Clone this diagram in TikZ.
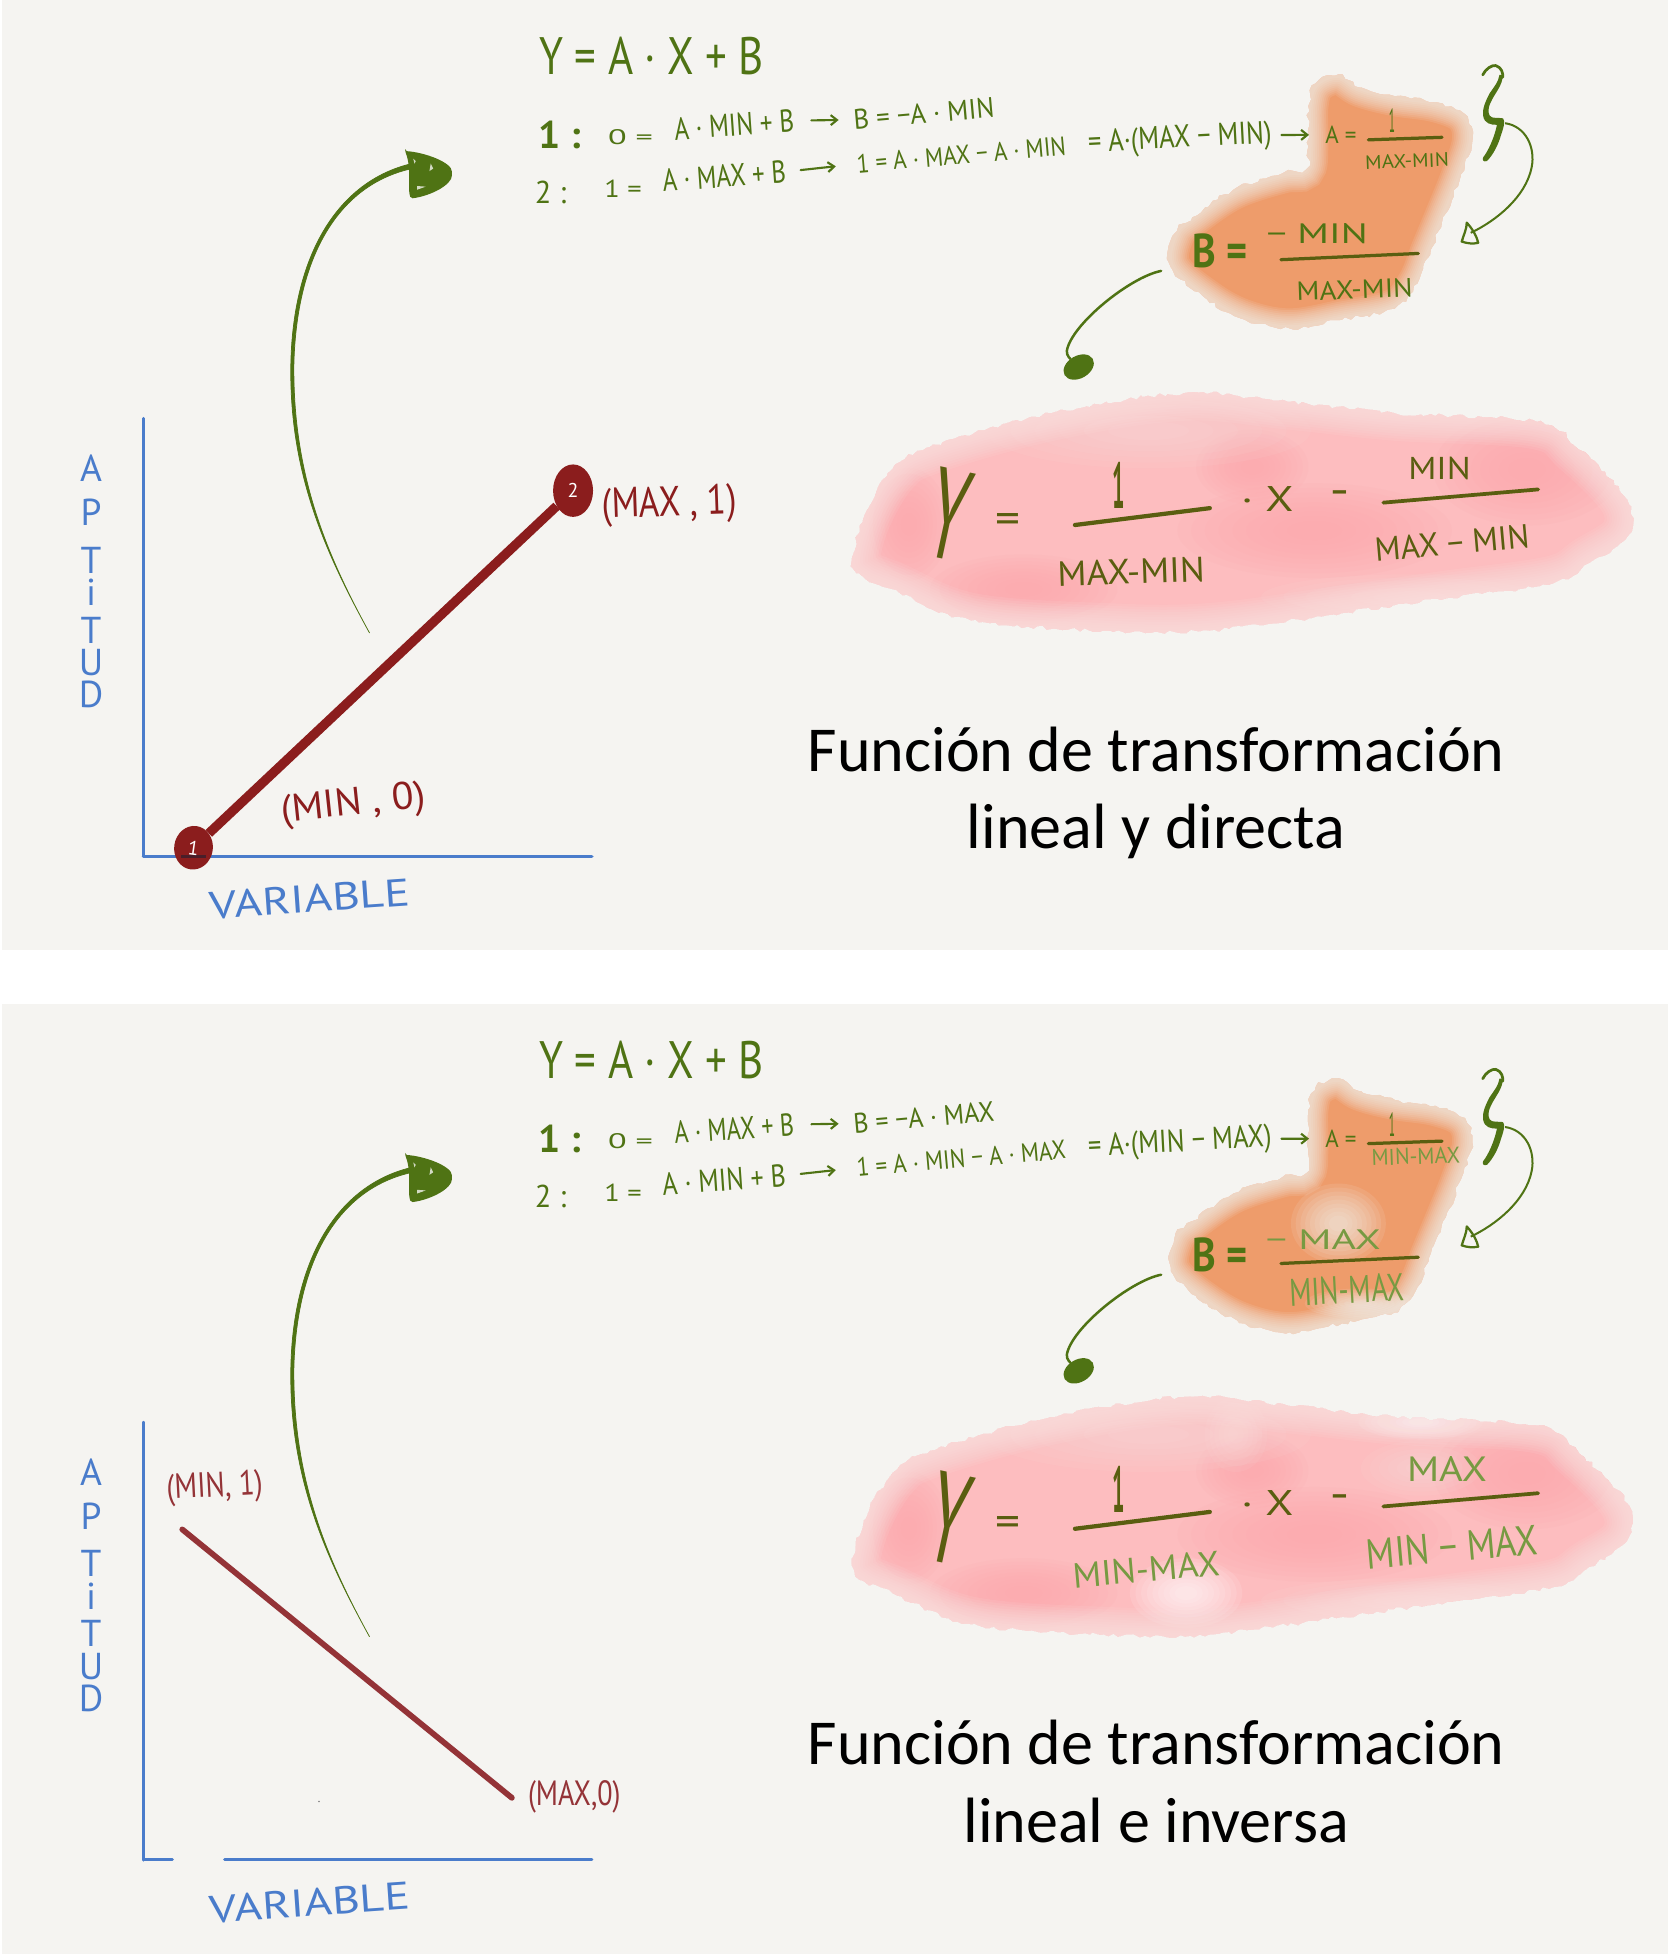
\documentclass[tikz,border=0pt]{standalone}
\usepackage{fontspec}
\usepackage{graphicx}
\usetikzlibrary{arrows.meta,decorations.pathmorphing,shapes.geometric}
\setmainfont{Carlito}
\newfontfamily\hand{PT Sans}
\definecolor{panelbg}{HTML}{F5F4F1}
\definecolor{hgreen}{HTML}{4F7314}
\definecolor{hdark}{HTML}{5A5E10}
\definecolor{lgreen}{HTML}{779A42}
\definecolor{hblue}{HTML}{4A7CCB}
\definecolor{hred}{HTML}{8B1D1D}
\definecolor{hredb}{HTML}{943337}
\definecolor{orangeblob}{HTML}{EE9C6B}
\definecolor{pinkblob}{HTML}{FDBDBF}
\definecolor{pinkdeep}{HTML}{FCA6AB}
\definecolor{pinkpale}{HTML}{F9E6E4}
\tikzset{
  x=1pt,y=-1pt,
  hwtext/.style={inner sep=0pt,outer sep=0pt,font=\hand},
  hwarrow/.style={draw=hgreen,line width=1.7pt,line cap=round,-{Straight Barb[length=5pt,width=8pt]}},
  fracbar/.style={draw=hdark,line cap=round},
  tapered/.style={draw=hgreen,fill=hgreen,line width=.6pt,line join=round},
  axisline/.style={draw=hblue,line cap=round},
  dotnode/.style={ellipse,fill=hred,text=white,inner sep=0pt,font=\hand\fontsize{16}{16}\selectfont},
  headblob/.style={ellipse,fill=hgreen,inner sep=0pt},
  jag/.style={decorate,decoration={random steps,segment length=4pt,amplitude=1.6pt}},
}
% \hw{name}{x,y}{rotation}{width}{height}{colour}{text}
\newcommand\hw[7]{\node[hwtext,text=#6,rotate=#3] (#1) at (#2) {\resizebox{#4pt}{#5pt}{#7}};}
\newcommand\softspot[5]{% x y rx ry colour
  \foreach \s in {1,.9,.8,.7,.6,.5,.4,.3,.2}{\fill[#5,opacity=.11] (#1,#2) ellipse [x radius=\s*#3pt,y radius=\s*#4pt];}}
\newcommand\softpale[5]{% x y rx ry colour, lighter
  \foreach \s in {1,.85,.7,.55,.4,.25}{\fill[#5,opacity=.08] (#1,#2) ellipse [x radius=\s*#3pt,y radius=\s*#4pt];}}
\newcommand\orangepath{plot[smooth cycle,tension=.6] coordinates {(1072,60)(1090,70)(1117,77)(1150,82)(1173,92)(1179,112)(1170,141)(1158,171)(1146,200)(1135,227)(1117,247)(1075,256)(1033,263)(997,256)(967,240)(938,214)(941,187)(955,174)(988,152)(1027,139)(1045,136)(1048,117)(1048,85)(1054,67)}}
\newcommand\pinkpath{plot[smooth cycle,tension=.6] coordinates {(683,449)(692,414)(715,376)(745,358)(842,331)(948,315)(1032,322)(1117,331)(1231,338)(1265,360)(1303,400)(1303,430)(1273,451)(1244,467)(1159,479)(1075,491)(969,505)(884,505)(778,497)(715,472)(692,462)}}
\newcommand\panelcommon[1]{%
  \begin{scope}
    \pgfmathsetseed{#1}
    \path[clip,jag] \orangepath;
    \fill[orangeblob] (900,40) rectangle (1200,280);
    \foreach \w in {32,29,26,23,20,17,14,11,8,5}{\draw[panelbg,opacity=.11,line width=\w pt] \orangepath;}
    \orangeextra
  \end{scope}
  \begin{scope}
    \pgfmathsetseed{#1}
    \path[clip,jag] \pinkpath;
    \fill[pinkblob] (670,300) rectangle (1320,520);
    \softspot{1223}{376}{75}{45}{pinkdeep}
    \softspot{1003}{374}{45}{30}{pinkdeep}
    \softspot{1053}{425}{110}{38}{pinkdeep}
    \softspot{820}{472}{75}{28}{pinkdeep}
    \softspot{728}{420}{32}{45}{pinkdeep}
    \softpale{920}{345}{130}{30}{pinkpale}
    \softpale{1130}{478}{120}{18}{pinkpale}
    \pinkextra
    \foreach \w in {44,40,36,32,28,24,20,16,12,8,4}{\draw[pinkpale,opacity=.1,line width=\w pt] \pinkpath;}
  \end{scope}
  % axes
  \draw[axisline,line width=2pt] (115,335) -- (115,686);
  \axesextra
  \node[hwtext,text=hblue,align=center,font=\hand\fontsize{30}{30}\selectfont] (aptitud) at (73,466) {A\\[5pt]P\\[8pt]T\\[-4pt]i\\T\\[-4pt]U\\[-4pt]D};
  \hw{variable}{248,720}{4}{161}{22}{hblue}{VARIABLE}
  % equations
  \hw{eqmain}{522,45}{0}{180}{30}{hgreen}{Y = A · X + B}
  \hw{oneA}{448,108}{0}{34}{22}{hgreen}{\bfseries 1 :}
  \hw{oneB}{505,110}{0}{36}{12}{hgreen}{0 =}
  \hw{oneC}{588,100}{4}{96}{18}{hgreen}{\LineOneA}
  \hw{oneD}{740,91}{5}{113}{16}{hgreen}{\LineOneB}
  \draw[hwarrow,shorten <=14pt,shorten >=12pt] (oneC.east) -- (oneD.west);
  \hw{twoA}{441,154}{0}{25}{18}{hgreen}{2 :}
  \hw{twoB}{499,151}{0}{30}{14}{hgreen}{1 =}
  \hw{twoC}{580,141}{4}{99}{18}{hgreen}{\LineTwoA}
  \hw{twoD}{770,124}{5}{168}{15}{hgreen}{\LineTwoB}
  \draw[hwarrow,shorten <=12pt,shorten >=17pt] (twoC.east) -- (twoD.west);
  \hw{twoE}{945,112}{3}{147}{18}{hgreen}{\LineTwoC}
  \hw{aeq}{1074,108}{0}{25}{14}{hgreen}{A =}
  \draw[hwarrow,shorten <=8pt,shorten >=13pt] (twoE.east) -- (aeq.west);
  \hw{aone}{1115,97}{0}{5}{19}{hgreen}{1}
  \draw[fracbar,line width=2.6pt] (1096,112) -- (1155,110);
  \hw{beq}{977,201}{0}{44}{27}{hgreen}{\bfseries B =}
  \draw[fracbar,line width=2.6pt] (1026,208) -- (1136,203);
  % big formula
  \hw{bigY}{760,412}{-12}{30}{72}{hdark}{Y}
  \hw{bigeq}{807,419}{0}{20}{16}{hdark}{=}
  \hw{bigone}{896,389}{0}{10}{37}{hdark}{\bfseries 1}
  \draw[fracbar,line width=3.4pt] (861,420.5) -- (969,407);
  \hw{bigx}{1015,400}{0}{42}{20}{hdark}{· X}
  \node[hwtext,text=hdark,font=\hand\bfseries\fontsize{24}{24}\selectfont] (bigminus) at (1073,398) {−};
  \draw[fracbar,line width=3pt] (1108,402.6) -- (1232,392);
  % big green arrow
  \coordinate (bigtail) at (296,507);
  \coordinate (bigmid) at (233,290);
  \coordinate (bigend) at (330,131);
  \draw[tapered] (bigtail) .. controls (262,445) and (231,380) .. (bigmid) .. controls (235,205) and (270,145) .. (bigend) -- (330,135) .. controls (271,148) and (238,205) .. (235.4,290) .. controls (234,380) and (262,445) .. (bigtail);
  \fill[hgreen,rounded corners=1.5pt] (324.4,121) .. controls (340,122) and (362,130) .. (362,139) .. controls (362,148) and (345,157) .. (329,159) .. controls (326,150) and (330,135) .. (324.4,121) -- cycle;
  \fill[panelbg,opacity=.8] (331,127) -- (333,129) -- (332,131) -- cycle (334,149) -- (341,149.5) -- (334,152) -- cycle (345,131) -- (347,135) -- (344,137) -- cycle;
  % brace and its arrow
  \draw[hgreen,line width=2.2pt,line cap=round,line join=round] (1187.6,60) .. controls (1190,55) and (1195,52) .. (1198,52.5) .. controls (1203,54) and (1204,59) .. (1203.6,62);
  \fill[hgreen,line join=round] (1203.6,60) .. controls (1204,68) and (1197,75) .. (1194,82) .. controls (1191,88) and (1192,93) .. (1195,94) .. controls (1199,95) and (1203,94) .. (1204,95) .. controls (1206,97) and (1204,103) .. (1202,109) .. controls (1200,116) and (1196,124) .. (1191,129) .. controls (1188,130) and (1187,128) .. (1188,126) .. controls (1192,121) and (1197,110) .. (1199,100) .. controls (1194,100) and (1189,99) .. (1188,93) .. controls (1187,87) and (1190,81) .. (1193,75) .. controls (1197,69) and (1200,66) .. (1201,60) -- cycle;
  \coordinate (bracetip) at (1205.5,98.7);
  \coordinate (hollowtip) at (1178,186.5);
  \draw[hgreen,line width=1.6pt] (bracetip) .. controls (1222,101) and (1230,118) .. (1226.8,134) .. controls (1222,158) and (1198,177) .. (hollowtip);
  \draw[hgreen,line width=1.8pt,line join=round,line cap=round] (1174.8,178.3) .. controls (1175,183) and (1172,189) .. (1170.8,193.5) .. controls (1175,195) and (1180,195.5) .. (1184,194.5) .. controls (1183,190) and (1180,184) .. (1174.8,178.3);
  % arrow from B to the formula
  \coordinate (smalltail) at (930,217);
  \node[headblob,minimum width=26pt,minimum height=18pt,rotate=30] (smallhead) at (864,294) {};
  \draw[hgreen,line width=2pt,line cap=round] (smalltail) .. controls (905,222) and (858,260) .. (854.5,281) .. controls (854,285) and (858,288) .. (smallhead);
}
\begin{document}
\begin{tikzpicture}
\useasboundingbox (0,0) rectangle (1336,1567.5);
\fill[white] (0,0) rectangle (1336,1567.5);
\fill[panelbg] (2,0) rectangle (1336,761);
\fill[panelbg] (2,804) rectangle (1336,1565);
% ---------- top panel
\begin{scope}[name prefix=top-]
  \def\LineOneA{A · MIN + B}\def\LineOneB{B = −A · MIN}
  \def\LineTwoA{A · MAX + B}\def\LineTwoB{1 = A · MAX − A · MIN}\def\LineTwoC{= A·(MAX − MIN)}
  \def\orangeextra{}\def\pinkextra{}
  \def\axesextra{\draw[axisline,line width=3pt] (115,686) -- (474,686);}
  \panelcommon{11}
  \hw{adenom}{1127,129}{2}{67}{11}{hgreen}{MAX-MIN}
  \hw{bnum}{1055,187}{0}{81}{16}{hgreen}{− MIN}
  \hw{bdenom}{1085,232}{2}{93}{15}{hgreen}{MAX-MIN}
  \hw{bigdenom}{906,458}{2}{118}{20}{hdark}{MAX-MIN}
  \hw{bignum}{1153,375}{0}{50}{18}{hdark}{MIN}
  \hw{bigdenomb}{1163,435}{5}{124}{19}{hdark}{MAX − MIN}
  % red line
  \node[dotnode,rotate=-8,minimum width=31pt,minimum height=35pt] (ptone) at (155,679) {1};
  \node[dotnode,minimum width=32pt,minimum height=42pt] (pttwo) at (459,393) {2};
  \draw[hred,line width=7.5pt] (ptone) -- (pttwo);
  \hw{lmax}{536,405}{2}{108}{24}{hred}{(MAX , 1)}
  \hw{lmin}{283,645}{6}{116}{22}{hred}{(MIN , 0)}
  \draw[black!75!hblue,line width=2.6pt,opacity=.55] (145,686) -- (165,686);
\end{scope}
% ---------- bottom panel
\begin{scope}[shift={(0,804)},name prefix=bot-]
  \def\LineOneA{A · MAX + B}\def\LineOneB{B = −A · MAX}
  \def\LineTwoA{A · MIN + B}\def\LineTwoB{1 = A · MIN − A · MAX}\def\LineTwoC{= A·(MIN − MAX)}
  \def\orangeextra{\softspot{1072}{176}{38}{32}{panelbg}\softspot{1090}{240}{45}{12}{panelbg}}
  \def\pinkextra{\softspot{950}{472}{45}{28}{white}\softpale{1138}{372}{48}{22}{pinkpale}\softspot{1138}{335}{50}{14}{white}\softpale{990}{345}{25}{30}{pinkpale}}
  \def\axesextra{\draw[axisline,line width=2.4pt] (115,685) -- (138,685); \draw[axisline,line width=2.4pt] (180,685) -- (474,685);}
  \panelcommon{23}
  \hw{adenom}{1134,122}{2}{71}{13}{lgreen}{MIN-MAX}
  \hw{bnum}{1060,189}{0}{92}{16}{lgreen}{− MAX}
  \hw{bdenom}{1079,229}{3}{92}{22}{lgreen}{MIN-MAX}
  \hw{bigdenom}{918,453}{5}{118}{20}{lgreen}{MIN-MAX}
  \hw{bignum}{1159,373}{0}{64}{20}{lgreen}{MAX}
  \hw{bigdenomb}{1163,435}{5}{138}{24}{lgreen}{MIN − MAX}
  % red line
  \coordinate (lstart) at (146,421);
  \coordinate (lend) at (410,636);
  \draw[hredb,line width=4.6pt,line cap=round] (lstart) -- (lend);
  \hw{lmin}{172,388}{3}{77}{20}{hredb}{(MIN, 1)}
  \hw{lmax}{460,635}{0}{74}{20}{hredb}{(MAX,0)}
  \fill[gray] (255.5,639) circle (.7pt);
\end{scope}
% ---------- titles
\node[font=\fontsize{51.3}{62}\selectfont,align=center,text=black,inner sep=0pt] (titletop) at (926,635) {Función de transformación\\lineal y directa};
\node[font=\fontsize{51.3}{62}\selectfont,align=center,text=black,inner sep=0pt] (titlebot) at (926,1427) {Función de transformación\\lineal e inversa};
\end{tikzpicture}
\end{document}
